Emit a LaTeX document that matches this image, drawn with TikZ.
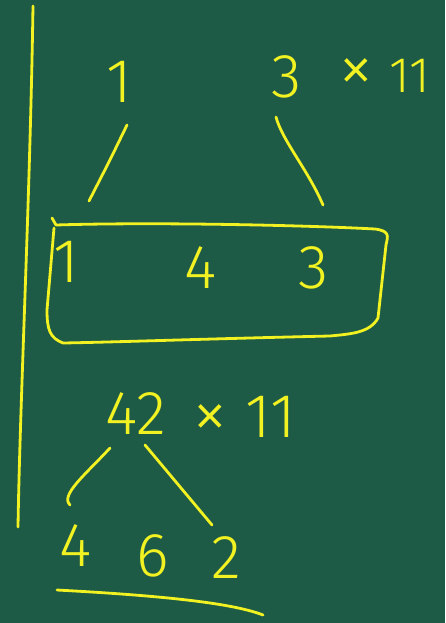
\documentclass[tikz,border=0pt]{standalone}
\usepackage{fontspec}
\setmainfont{Fira Sans Light}
\definecolor{board}{HTML}{1E5B47}
\definecolor{chalk}{HTML}{F2F222}
\begin{document}
\begin{tikzpicture}[x=1pt,y=-1pt,
  chalkline/.style={draw=chalk,line width=2.8pt,line cap=round,line join=round},
  dig/.style={text=chalk,inner sep=0pt,font=\fontsize{62}{62}\selectfont},
  smalldig/.style={text=chalk,inner sep=0pt,font=\fontsize{50}{50}\selectfont},
  times/.style={text=chalk,inner sep=0pt,font=\fontsize{72}{72}\selectfont}]
\fill[board] (0,0) rectangle (445,623);
\useasboundingbox (0,0) rectangle (445,623);
% vertical divider
\coordinate (vt) at (33,6);
\coordinate (vb) at (18,527);
\draw[chalkline] (vt) .. controls (30,200) and (20,400) .. (vb);
% top row
\node[dig] (a1) at (119,82) {1};
\node[dig] (a3) at (287,77) {3};
\node[times] (ax) at (356,76) {×};
\node[smalldig] (a11) at (410,76) {11};
\coordinate (l1s) at (127,125);
\coordinate (l1e) at (89,201);
\coordinate (r1s) at (276,117);
\coordinate (r1e) at (323,205);
\draw[chalkline] (l1s) .. controls (110,160) .. (l1e);
\draw[chalkline] (r1s) .. controls (282,140) and (308,170) .. (r1e);
% box
\coordinate (b1) at (52,218);
\draw[chalkline] (b1) -- (56,225) .. controls (150,222) and (300,225) .. (375,229)
  .. controls (390,231) and (388,236) .. (386,245)
  -- (378,318) .. controls (370,333) and (350,334) .. (330,336)
  .. controls (200,339) and (120,342) .. (63,343)
  .. controls (50,338) and (47,330) .. (47,310)
  -- (54,228);
\node[dig] (b1d) at (66,262) {1};
\node[dig] (b4) at (201,268) {4};
\node[dig] (b3) at (314,268) {3};
% second example
\node[dig] (c42) at (136,414) {42};
\node[times] (cx) at (210,422) {×};
\node[dig] (c11) at (271,417) {11};
\coordinate (l2s) at (110,448);
\coordinate (l2e) at (70,505);
\coordinate (r2s) at (145,445);
\coordinate (r2e) at (212,525);
\draw[chalkline] (l2s) .. controls (85,475) and (60,495) .. (l2e);
\draw[chalkline] (r2s) -- (r2e);
\node[dig] (d4) at (76,546) {4};
\node[dig] (d6) at (153,556) {6};
\node[dig] (d2) at (226,558) {2};
\coordinate (us) at (57,590);
\coordinate (ue) at (263,615);
\draw[chalkline] (us) .. controls (150,595) and (230,602) .. (ue);
\end{tikzpicture}
\end{document}
